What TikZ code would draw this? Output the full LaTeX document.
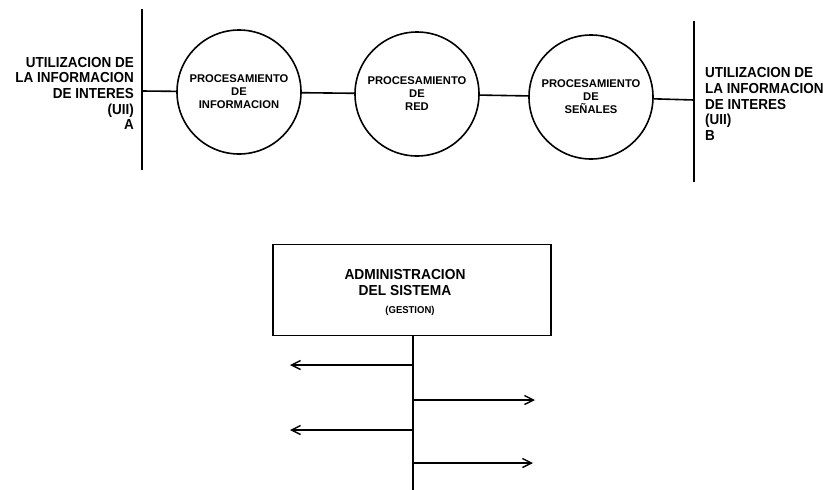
\documentclass[tikz,border=0pt]{standalone}
\usepackage{fontspec}
\setmainfont{Liberation Sans}
\newfontfamily\narrowbold[FakeStretch=0.93]{Liberation Sans Bold}
\newfontfamily\boxbold[FakeStretch=0.95]{Liberation Sans Bold}
\usetikzlibrary{arrows.meta}
\begin{document}
\begin{tikzpicture}[x=1pt,y=-1pt,
  wire/.style={line width=1.6pt},
  proc/.style={circle,draw,line width=1.6pt,minimum size=124pt,inner sep=0pt,align=center,
    font=\fontsize{11.2}{13}\selectfont\bfseries},
  side/.style={font=\fontsize{14.5}{15.7}\narrowbold,inner sep=0pt},
  arr/.style={line width=1.6pt,-{Straight Barb[length=9pt,width=9pt,line width=1.4pt]}}]
\useasboundingbox (0,0) rectangle (823,490);
% left and right bars
\coordinate (lt) at (142,9);
\coordinate (lb) at (142,170);
\coordinate (lm) at (142,91);
\coordinate (rt) at (694,21);
\coordinate (rb) at (694,182);
\coordinate (rm) at (694,100);
\draw[wire] (lt) -- (lb);
\draw[wire] (rt) -- (rb);
\node[side,anchor=east,align=right] (la) at (134,93.5)
  {UTILIZACION DE\\LA INFORMACION\\DE INTERES\\(UII)\\A};
\node[side,anchor=west,align=left] (ra) at (705,104)
  {UTILIZACION DE\\LA INFORMACION\\DE INTERES\\(UII)\\B};
% circles
\node[proc] (c1) at (239,92) {PROCESAMIENTO\\DE\\INFORMACION};
\node[proc] (c2) at (417,94) {PROCESAMIENTO\\DE\\RED};
\node[proc] (c3) at (591,97) {PROCESAMIENTO\\DE\\SEÑALES};
\draw[wire] (lm) -- (c1);
\draw[wire] (c1) -- (c2);
\draw[wire] (c2) -- (c3);
\draw[wire] (c3) -- (rm);
% management box
\node[draw,line width=1.6pt,minimum width=278pt,minimum height=91pt,inner sep=0pt] (box) at (412,290) {};
\node[font=\fontsize{14.5}{16}\boxbold,align=center,inner sep=0pt] (title) at (405,283)
  {ADMINISTRACION\\DEL SISTEMA};
\node[font=\fontsize{10}{12}\boxbold,inner sep=0pt] (gest) at (410,311) {(GESTION)};
\coordinate (vt) at (413,335.5);
\coordinate (vb) at (413,490);
\draw[wire] (vt) -- (vb);
\coordinate (a1s) at (413,365); \coordinate (a1e) at (290,365);
\coordinate (a2s) at (413,400); \coordinate (a2e) at (535,400);
\coordinate (a3s) at (413,430); \coordinate (a3e) at (290,430);
\coordinate (a4s) at (413,463); \coordinate (a4e) at (533,463);
\draw[arr] (a1s) -- (a1e);
\draw[arr] (a2s) -- (a2e);
\draw[arr] (a3s) -- (a3e);
\draw[arr] (a4s) -- (a4e);
\end{tikzpicture}
\end{document}
